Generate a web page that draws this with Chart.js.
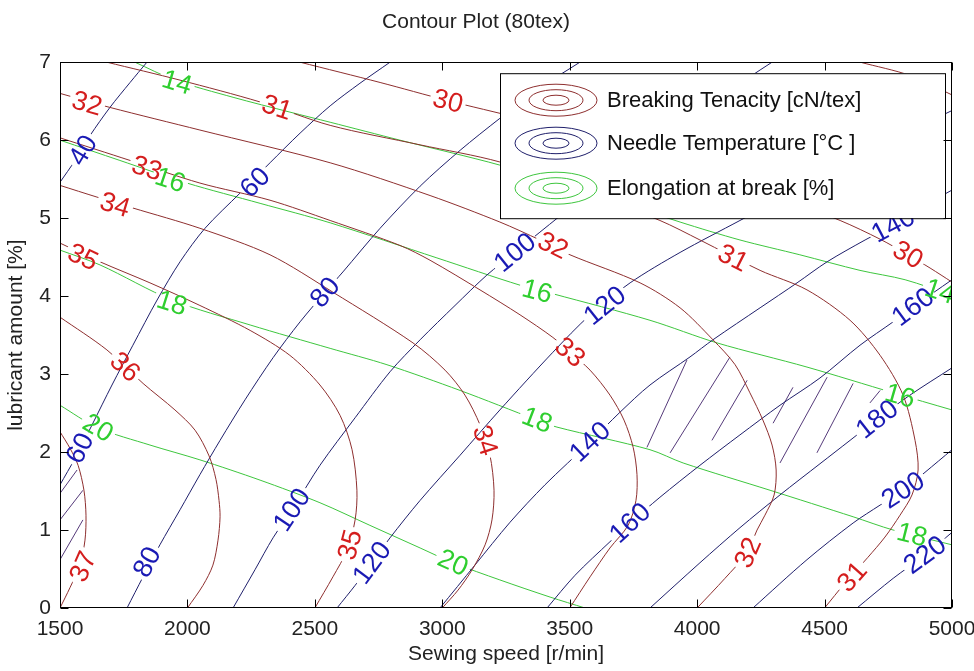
<!DOCTYPE html>
<html>
<head>
<meta charset="utf-8">
<title>Contour Plot (80tex)</title>
<script src="https://cdn.jsdelivr.net/npm/chart.js@4.4.1/dist/chart.umd.min.js"></script>
<style>
  body { margin: 0; background: #fff; }
  #wrap { width: 974px; height: 671px; }
</style>
</head>
<body>
<div id="wrap"><canvas id="contourChart" width="974" height="671"></canvas></div>
<script>
// Texts
const chartTitle = 'Contour Plot (80tex)';
const xAxisTitle = 'Sewing speed [r/min]';
const yAxisTitle = 'lubricant amount [%]';
const seriesNames = ['Breaking Tenacity [cN/tex]', 'Needle Temperature [\u00B0C ]', 'Elongation at break [%]'];

// Tick values
const xTickValues = [1500, 2000, 2500, 3000, 3500, 4000, 4500, 5000];
const yTickValues = [0, 1, 2, 3, 4, 5, 6, 7];

// Breaking tenacity contours, points are [speed, lubricant]
const ten29 = [[4640, 7.0], [4835, 6.83], [5000, 6.58]];
const ten30 = [[2442, 7.0], [2756, 6.74], [3018, 6.51], [3305, 6.28], [3619, 6.0], [4011, 5.62], [4325, 5.26], [4561, 4.97], [4718, 4.73], [4827, 4.53], [4914, 4.36], [5000, 4.18]];
const ten31 = [[1684, 7.0], [1971, 6.77], [2285, 6.49], [2560, 6.19], [2913, 5.94], [3226, 5.72], [3540, 5.36], [3854, 4.97], [4011, 4.72], [4247, 4.33], [4431, 4.08], [4600, 3.69], [4718, 3.24], [4808, 2.73], [4855, 2.15], [4867, 1.77], [4843, 1.45], [4796, 1.19], [4737, 0.91], [4670, 0.65], [4580, 0.32], [4500, 0]];
const ten32 = [[1500, 6.6], [1696, 6.42], [2049, 6.13], [2560, 5.71], [2952, 5.29], [3226, 4.95], [3383, 4.72], [3501, 4.53], [3776, 4.17], [3933, 3.85], [4062, 3.44], [4149, 3.12], [4207, 2.76], [4258, 2.41], [4294, 2.09], [4310, 1.77], [4302, 1.45], [4266, 1.19], [4235, 1.0], [4196, 0.71], [4109, 0.38], [4000, 0]];
const ten33 = [[1500, 6.03], [1775, 5.74], [2049, 5.45], [2324, 5.23], [2560, 4.97], [2834, 4.65], [2952, 4.46], [3148, 4.08], [3305, 3.76], [3434, 3.47], [3501, 3.28], [3580, 3.05], [3658, 2.73], [3713, 2.41], [3749, 2.06], [3764, 1.71], [3760, 1.38], [3729, 1.06], [3658, 0.77], [3580, 0.4], [3500, 0]];
const ten34 = [[1500, 5.42], [1645, 5.27], [1786, 5.13], [2049, 4.87], [2324, 4.53], [2571, 4.05], [2885, 3.4], [3011, 3.05], [3089, 2.73], [3148, 2.35], [3187, 1.96], [3203, 1.51], [3195, 1.13], [3168, 0.81], [3117, 0.49], [3062, 0.23], [3000, 0]];
const ten35 = [[1500, 4.68], [1657, 4.44], [1853, 4.17], [2049, 3.88], [2246, 3.56], [2402, 3.24], [2520, 2.86], [2599, 2.47], [2646, 2.03], [2665, 1.51], [2658, 1.13], [2626, 0.74], [2571, 0.4], [2500, 0]];
const ten36 = [[1500, 3.73], [1684, 3.31], [1826, 2.88], [1951, 2.54], [2030, 2.28], [2085, 1.95], [2112, 1.65], [2124, 1.38], [2128, 1.17], [2120, 0.87], [2100, 0.55], [2061, 0.29], [2000, 0]];
const ten37 = [[1500, 2.26], [1539, 2.05], [1571, 1.83], [1594, 1.51], [1602, 1.19], [1598, 0.87], [1578, 0.55], [1539, 0.26], [1500, 0]];

// Needle temperature contours
const tmp40 = [[1500, 5.46], [1559, 5.74], [1618, 6.06], [1696, 6.42], [1775, 6.74], [1841, 7.0]];
const tmp60 = [[1500, 1.58], [1559, 1.92], [1626, 2.35], [1704, 2.86], [1786, 3.37], [1881, 3.95], [1971, 4.44], [2069, 4.87], [2206, 5.32], [2324, 5.71], [2442, 6.09], [2560, 6.44], [2677, 6.73], [2795, 7.0]];
const tmp80 = [[1763, 0], [1826, 0.4], [1892, 0.81], [1971, 1.26], [2049, 1.71], [2128, 2.15], [2226, 2.67], [2336, 3.21], [2442, 3.67], [2548, 4.08], [2610, 4.31], [2756, 4.87], [2913, 5.41], [3070, 5.87], [3226, 6.28], [3383, 6.67], [3540, 7.0]];
const tmp100 = [[2179, 0], [2265, 0.49], [2336, 0.9], [2422, 1.32], [2520, 1.83], [2658, 2.44], [2795, 3.03], [2913, 3.44], [3050, 3.88], [3175, 4.27], [3285, 4.56], [3383, 4.82], [3540, 5.23], [3776, 5.81], [4011, 6.38], [4247, 6.9], [4294, 7.0]];
const tmp120 = [[2587, 0], [2658, 0.29], [2724, 0.58], [2795, 0.9], [2913, 1.38], [3070, 1.96], [3226, 2.54], [3434, 3.28], [3580, 3.76], [3737, 4.17], [3933, 4.56], [4168, 4.97], [4403, 5.38], [4678, 5.87], [5000, 6.38]];
const tmp140 = [[2991, 0], [3128, 0.55], [3266, 1.1], [3403, 1.58], [3580, 2.13], [3697, 2.51], [3815, 2.86], [3972, 3.22], [4062, 3.44], [4247, 3.85], [4392, 4.17], [4510, 4.44], [4659, 4.72], [4769, 4.91], [4847, 5.08], [5000, 5.36]];
const tmp160 = [[3411, 0], [3521, 0.42], [3658, 0.85], [3737, 1.09], [3854, 1.42], [4011, 1.83], [4168, 2.22], [4325, 2.6], [4482, 2.95], [4639, 3.37], [4769, 3.67], [4847, 3.86], [5000, 4.21]];
const tmp180 = [[3815, 0], [4011, 0.58], [4168, 1.03], [4325, 1.45], [4482, 1.85], [4600, 2.15], [4706, 2.42], [4835, 2.73], [5000, 3.08]];
const tmp200 = [[4219, 0], [4431, 0.62], [4612, 1.09], [4718, 1.32], [4808, 1.51], [4894, 1.74], [5000, 2.03]];
const tmp220 = [[4627, 0], [4769, 0.38], [4894, 0.68], [5000, 0.97]];

// Elongation at break contours
const elo14 = [[1794, 7.0], [1951, 6.77], [2179, 6.55], [2402, 6.36], [2560, 6.23], [2834, 6.0], [3226, 5.68], [3619, 5.29], [3933, 4.95], [4168, 4.72], [4403, 4.53], [4639, 4.33], [4816, 4.21], [5000, 4.01]];
const elo16 = [[1500, 6.0], [1735, 5.74], [1998, 5.45], [2285, 5.19], [2560, 4.94], [2979, 4.49], [3305, 4.14], [3434, 4.03], [3815, 3.69], [4078, 3.4], [4431, 3.09], [4769, 2.76], [5000, 2.54]];
const elo18 = [[1500, 4.59], [1657, 4.4], [1939, 3.95], [2246, 3.63], [2560, 3.33], [2783, 3.12], [3070, 2.79], [3372, 2.41], [3450, 2.32], [3815, 2.03], [3945, 1.86], [4286, 1.51], [4612, 1.17], [4769, 1.0], [5000, 0.81]];
const elo20 = [[1500, 2.6], [1649, 2.31], [1853, 2.09], [2049, 1.9], [2285, 1.64], [2520, 1.35], [2716, 1.06], [2913, 0.77], [3042, 0.58], [3226, 0.36], [3423, 0.14], [3560, 0]];

// Inline contour labels: [level, speed, lubricant]
const tenacityLabels = [[32, 1606, 6.47], [31, 2351, 6.42], [30, 3022, 6.5], [33, 1841, 5.64], [34, 1716, 5.17], [35, 1590, 4.5], [36, 1755, 3.09], [37, 1590, 0.53],
  [32, 3434, 4.65], [33, 3501, 3.28], [34, 3168, 2.15], [35, 2638, 0.81], [31, 4141, 4.49], [30, 4827, 4.53], [32, 4200, 0.71], [31, 4608, 0.4]];
const temperatureLabels = [[40, 1590, 5.87], [60, 2265, 5.46], [60, 1578, 2.05], [80, 2540, 4.05], [80, 1841, 0.59], [100, 2410, 1.26], [100, 3285, 4.56],
  [120, 2724, 0.58], [120, 3638, 3.88], [140, 3580, 2.13], [140, 4769, 4.91], [160, 3737, 1.09], [160, 4847, 3.86], [180, 4706, 2.42], [200, 4808, 1.51], [220, 4894, 0.68]];
const elongationLabels = [[14, 1959, 6.74], [16, 1932, 5.49], [18, 1939, 3.91], [20, 1649, 2.31], [16, 3372, 4.06], [18, 3372, 2.41], [20, 3042, 0.58],
  [16, 4796, 2.72], [18, 4843, 0.94], [14, 4953, 4.06]];

// Hatched feasible region: [speed1, lub1, speed2, lub2]
const hatchSegments = [[1500, 1.47, 1567, 1.77], [1500, 1.13, 1590, 1.51], [1500, 0.62, 1590, 1.13],
  [3803, 2.06, 3960, 3.18], [3894, 1.99, 4129, 3.22], [4058, 2.15, 4196, 2.92],
  [4298, 2.37, 4376, 2.83], [4325, 1.86, 4510, 2.96], [4470, 1.99, 4612, 2.88], [4678, 2.63, 4718, 2.79]];

const FONT = "'Liberation Sans', Arial, Helvetica, sans-serif";
const LABEL_SIZE = 27;
const palette = {
  ten: { line: '#8e2f2f', text: '#d41e1e' },
  tmp: { line: '#1f1f6b', text: '#1a1ab4' },
  elo: { line: '#3ec63e', text: '#2fce2f' }
};
const labelSets = { ten: tenacityLabels, tmp: temperatureLabels, elo: elongationLabels };

const datasets = [];
function addFamily(family, lines) {
  lines.forEach(function(item) {
    datasets.push({
      label: family + ' ' + item[0],
      family: family,
      level: item[0],
      data: item[1].map(p => ({ x: p[0], y: p[1] })),
      showLine: true,
      borderColor: palette[family].line,
      borderWidth: 1,
      pointRadius: 0,
      pointHoverRadius: 0,
      tension: 0.3,
      fill: false
    });
  });
}
addFamily('ten', [[29, ten29], [30, ten30], [31, ten31], [32, ten32], [33, ten33], [34, ten34], [35, ten35], [36, ten36], [37, ten37]]);
addFamily('tmp', [[40, tmp40], [60, tmp60], [80, tmp80], [100, tmp100], [120, tmp120], [140, tmp140], [160, tmp160], [180, tmp180], [200, tmp200], [220, tmp220]]);
addFamily('elo', [[14, elo14], [16, elo16], [18, elo18], [20, elo20]]);

const hatchData = [];
hatchSegments.forEach(s => {
  hatchData.push({ x: s[0], y: s[1] }, { x: s[2], y: s[3] }, { x: s[2], y: null });
});
datasets.push({
  label: 'hatch',
  data: hatchData,
  showLine: true,
  spanGaps: false,
  borderColor: '#553a7a',
  borderWidth: 1,
  pointRadius: 0,
  tension: 0
});

function distToSeg(px, py, ax, ay, bx, by) {
  const dx = bx - ax, dy = by - ay;
  const len2 = dx * dx + dy * dy || 1;
  let t = ((px - ax) * dx + (py - ay) * dy) / len2;
  t = Math.max(0, Math.min(1, t));
  const qx = ax + t * dx, qy = ay + t * dy;
  return Math.hypot(px - qx, py - qy);
}

// position and angle of a label, following its own contour
function labelGeometry(chart, meta, lab) {
  const px = chart.scales.x.getPixelForValue(lab[1]);
  const py = chart.scales.y.getPixelForValue(lab[2]);
  const pts = meta.data;
  let best = Infinity, ang = 0;
  for (let i = 0; i < pts.length - 1; i++) {
    const a = pts[i], b = pts[i + 1];
    const d = distToSeg(px, py, a.x, a.y, b.x, b.y);
    if (d < best) { best = d; ang = Math.atan2(b.y - a.y, b.x - a.x); }
  }
  if (ang > Math.PI / 2) ang -= Math.PI;
  if (ang < -Math.PI / 2) ang += Math.PI;
  const ctx = chart.ctx;
  ctx.save();
  ctx.font = LABEL_SIZE + 'px ' + FONT;
  const w = ctx.measureText(String(lab[0])).width;
  ctx.restore();
  return { x: px, y: py, angle: ang, w: w, h: LABEL_SIZE * 0.8 };
}

function findMeta(chart, family, level) {
  const i = chart.data.datasets.findIndex(d => d.family === family && d.level === level);
  return i < 0 ? null : chart.getDatasetMeta(i);
}

const contourPlugin = {
  id: 'contourExtras',
  // break each contour line where its own labels sit
  beforeDatasetDraw(chart, args) {
    const ds = chart.data.datasets[args.index];
    if (!ds.family) return;
    const labs = labelSets[ds.family].filter(l => l[0] === ds.level);
    if (!labs.length) return;
    const ctx = chart.ctx;
    ctx.save();
    ctx.beginPath();
    ctx.rect(0, 0, chart.width, chart.height);
    labs.forEach(l => {
      const g = labelGeometry(chart, args.meta, l);
      const c = Math.cos(g.angle), s = Math.sin(g.angle);
      const hw = g.w / 2 + 3, hh = g.h / 2;
      const corners = [[-hw, -hh], [-hw, hh], [hw, hh], [hw, -hh]].map(p => [g.x + p[0] * c - p[1] * s, g.y + p[0] * s + p[1] * c]);
      ctx.moveTo(corners[0][0], corners[0][1]);
      for (let k = 1; k < 4; k++) ctx.lineTo(corners[k][0], corners[k][1]);
      ctx.closePath();
    });
    ctx.clip('evenodd');
    ds._clipped = true;
  },
  afterDatasetDraw(chart, args) {
    const ds = chart.data.datasets[args.index];
    if (ds._clipped) {
      chart.ctx.restore();
      ds._clipped = false;
    }
  },
  afterDatasetsDraw(chart) {
    const ctx = chart.ctx;
    const area = chart.chartArea;

    // contour labels
    ctx.save();
    ctx.beginPath();
    ctx.rect(area.left, area.top, area.right - area.left, area.bottom - area.top);
    ctx.clip();
    Object.keys(labelSets).forEach(fam => {
      labelSets[fam].forEach(l => {
        const meta = findMeta(chart, fam, l[0]);
        if (!meta) return;
        const g = labelGeometry(chart, meta, l);
        ctx.save();
        ctx.translate(g.x, g.y);
        ctx.rotate(g.angle);
        ctx.font = LABEL_SIZE + 'px ' + FONT;
        ctx.fillStyle = palette[fam].text;
        ctx.textAlign = 'center';
        ctx.textBaseline = 'middle';
        ctx.fillText(String(l[0]), 0, 1);
        ctx.restore();
      });
    });
    ctx.restore();

    // legend box
    const lx = area.right - 452, ly = area.top + 11, lw = 445, lh = 145;
    ctx.save();
    ctx.fillStyle = '#fff';
    ctx.fillRect(lx, ly, lw, lh);
    ctx.strokeStyle = '#000';
    ctx.lineWidth = 1;
    ctx.strokeRect(lx + 0.5, ly + 0.5, lw, lh);
    const fams = ['ten', 'tmp', 'elo'];
    const rows = [27, 70, 115];
    fams.forEach((fam, i) => {
      const cx = lx + 56, cy = ly + rows[i];
      ctx.strokeStyle = palette[fam].line;
      [[41, 16], [27, 10.5], [13, 5]].forEach(r => {
        ctx.beginPath();
        ctx.ellipse(cx, cy, r[0], r[1], 0, 0, Math.PI * 2);
        ctx.stroke();
      });
      ctx.fillStyle = '#111';
      ctx.font = '22px ' + FONT;
      ctx.textAlign = 'left';
      ctx.textBaseline = 'middle';
      ctx.fillText(seriesNames[i], lx + 107, cy + 1);
    });
    ctx.restore();

    // axes box with inward ticks
    ctx.save();
    ctx.strokeStyle = '#000';
    ctx.lineWidth = 1;
    const L = Math.round(area.left) + 0.5, R = Math.round(area.right) - 0.5;
    const T = Math.round(area.top) + 0.5, B = Math.round(area.bottom) - 0.5;
    ctx.strokeRect(L, T, R - L, B - T);
    ctx.beginPath();
    xTickValues.forEach(v => {
      const x = Math.round(chart.scales.x.getPixelForValue(v)) + 0.5;
      ctx.moveTo(x, B); ctx.lineTo(x, B - 8);
      ctx.moveTo(x, T); ctx.lineTo(x, T + 8);
    });
    yTickValues.forEach(v => {
      const y = Math.round(chart.scales.y.getPixelForValue(v)) + 0.5;
      ctx.moveTo(L, y); ctx.lineTo(L + 8, y);
      ctx.moveTo(R, y); ctx.lineTo(R - 8, y);
    });
    ctx.stroke();
    ctx.restore();
  }
};

const ctx = document.getElementById('contourChart');
new Chart(ctx, {
  type: 'scatter',
  data: { datasets: datasets },
  options: {
    responsive: false,
    animation: false,
    devicePixelRatio: 1,
    layout: { padding: { left: 0, right: 22, top: 0, bottom: 0 } },
    plugins: {
      legend: { display: false },
      tooltip: { enabled: false },
      title: {
        display: true,
        text: chartTitle,
        color: '#222',
        font: { family: FONT, size: 21, weight: 'normal' },
        padding: { top: 10, bottom: 27 }
      }
    },
    scales: {
      x: {
        type: 'linear',
        min: 1500,
        max: 5000,
        afterBuildTicks: s => { s.ticks = xTickValues.map(v => ({ value: v })); },
        afterFit: s => { s.height = 63; s.paddingLeft = 0; s.paddingRight = 0; },
        grid: { display: false, drawTicks: false },
        border: { display: false },
        ticks: { padding: 9, color: '#222', font: { family: FONT, size: 21 }, maxRotation: 0, autoSkip: false, callback: v => String(v) },
        title: { display: true, text: xAxisTitle, color: '#222', font: { family: FONT, size: 21 }, padding: { top: 0, bottom: 4 } }
      },
      y: {
        type: 'linear',
        min: 0,
        max: 7,
        afterBuildTicks: s => { s.ticks = yTickValues.map(v => ({ value: v })); },
        afterFit: s => { s.width = 60; s.paddingTop = 0; s.paddingBottom = 0; },
        grid: { display: false, drawTicks: false },
        border: { display: false },
        ticks: { padding: 9, color: '#222', font: { family: FONT, size: 21 }, autoSkip: false, callback: v => String(v) },
        title: { display: true, text: yAxisTitle, color: '#222', font: { family: FONT, size: 21 }, padding: { top: 4, bottom: 0 } }
      }
    }
  },
  plugins: [contourPlugin]
});
</script>
</body>
</html>
